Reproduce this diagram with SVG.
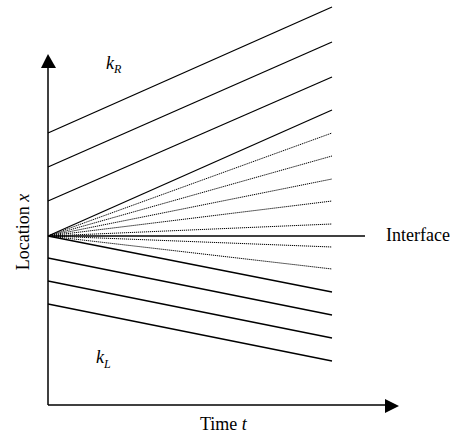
<svg xmlns="http://www.w3.org/2000/svg" width="452" height="434" viewBox="0 0 452 434">
<style>
.ax{stroke:#000;stroke-width:1.5;fill:none}
.s{stroke:#000;stroke-width:1.3;fill:none}
.d{stroke:#000;stroke-width:1;stroke-dasharray:1.2 0.8;fill:none}
text{font-family:"Liberation Serif","Times New Roman",serif;font-size:18px;fill:#000}
.i{font-style:italic}
</style>
<rect width="452" height="434" fill="#fff"/>
<g id="axes">
<line class="ax" x1="48" y1="405" x2="48" y2="66"/>
<polygon points="48,54 41,68 56,68" fill="#000"/>
<line class="ax" x1="48" y1="405" x2="386" y2="405"/>
<polygon points="399,406 385,399 385,413" fill="#000"/>
</g>
<g id="connectors">
<line class="s" x1="48" y1="133" x2="332" y2="7"/>
<line class="s" x1="48" y1="167" x2="332" y2="42"/>
<line class="s" x1="48" y1="201" x2="332" y2="77"/>
<line class="s" x1="48" y1="236" x2="332" y2="110"/>
<line class="d" x1="48" y1="236" x2="332" y2="133"/>
<line class="d" x1="48" y1="236" x2="332" y2="156"/>
<line class="d" x1="48" y1="236" x2="332" y2="179"/>
<line class="d" x1="48" y1="236" x2="332" y2="201"/>
<line class="d" x1="48" y1="236" x2="332" y2="224"/>
<line class="d" x1="48" y1="236" x2="332" y2="247"/>
<line class="d" x1="48" y1="236" x2="332" y2="269"/>
<line class="s" x1="48" y1="236" x2="365" y2="236"/>
<line class="s" x1="48" y1="236" x2="332" y2="292"/>
<line class="s" x1="48" y1="258" x2="332" y2="315"/>
<line class="s" x1="48" y1="281" x2="332" y2="338"/>
<line class="s" x1="48" y1="304" x2="332" y2="361"/>
</g>
<g id="labels">
<text x="386" y="241">Interface</text>
<text x="200" y="430">Time <tspan class="i">t</tspan></text>
<text transform="translate(29,232) rotate(-90)" text-anchor="middle">Location <tspan class="i">x</tspan></text>
<text class="i" x="106" y="69">k<tspan font-size="12" dy="4">R</tspan></text>
<text class="i" x="96" y="363">k<tspan font-size="12" dy="5">L</tspan></text>
</g>
</svg>
